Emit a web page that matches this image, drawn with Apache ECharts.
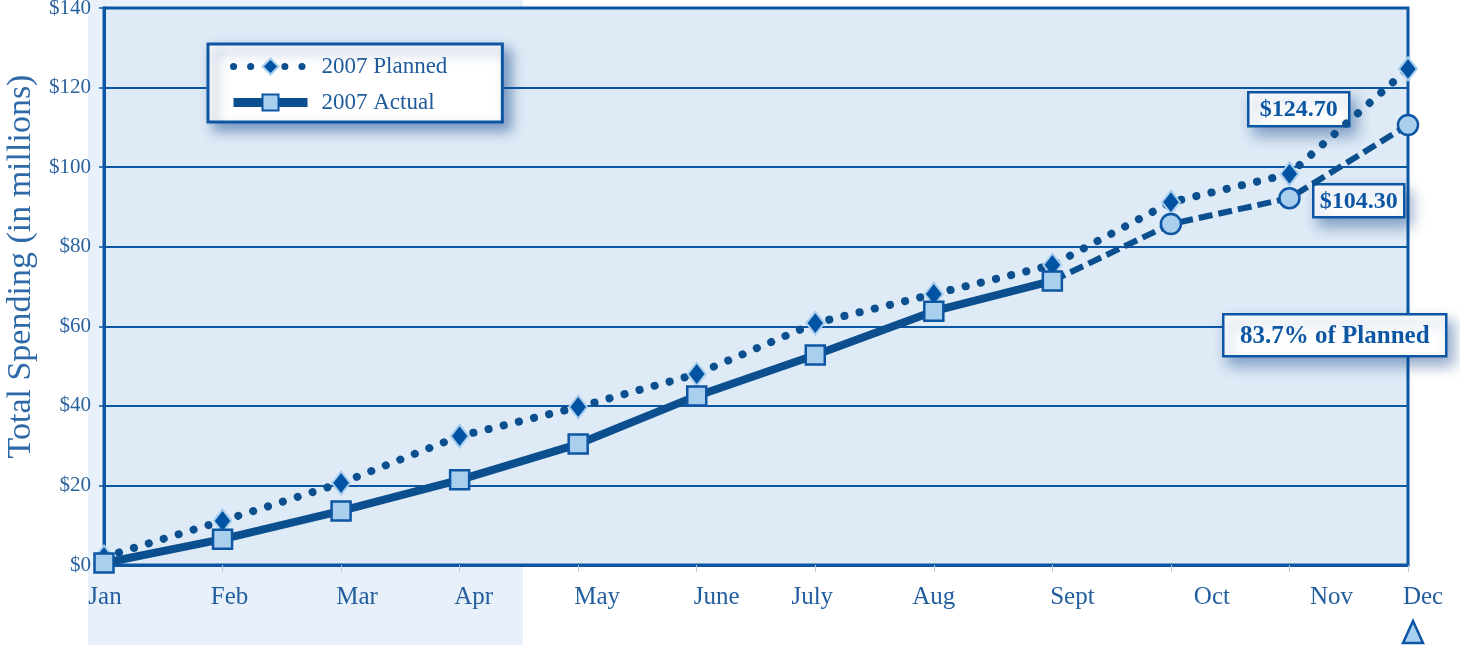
<!DOCTYPE html>
<html>
<head>
<meta charset="utf-8">
<script src="https://cdn.jsdelivr.net/npm/echarts@6/dist/echarts.min.js"></script>
<style>
html,body{margin:0;padding:0;background:#fff;}
#c{width:1460px;height:645px;}
</style>
</head>
<body>
<div id="c"></div>
<script>
const months = ['Jan','Feb','Mar','Apr','May','June','July','Aug','Sept','Oct','Nov','Dec'];
const planned = [2.0, 11.1, 20.6, 32.4, 39.7, 48.0, 60.8, 68.1, 75.4, 91.2, 98.3, 124.7];
const actual = [0.5, 6.5, 13.6, 21.4, 30.4, 42.5, 52.8, 63.8, 71.4, null, null, null];
const projected = [null, null, null, null, null, null, null, null, 71.4, 85.7, 92.2, 110.6];
const seriesNames = ['2007 Planned', '2007 Actual', 'Projected'];
const yAxisTitle = 'Total Spending (in millions)';
const noteTexts = ['$124.70', '$104.30', '83.7% of Planned'];

// label horizontal shifts (style only)
const labelShift = [1, 7, 16, 14, 19, 20, -3, 0, 20, 41, 42, 15];

const NAVY = '#0b4f8e';
const BORDER = '#0c56a3';
const LIGHT = '#a9cfee';
const SERIF = '"Liberation Serif", "DejaVu Serif", serif';

const rich = {};
labelShift.forEach((s, i) => {
  rich['s' + i] = {
    fontFamily: SERIF, fontSize: 25, color: '#235f9f',
    padding: s >= 0 ? [0, 0, 0, 2 * s] : [0, -2 * s, 0, 0]
  };
});

function noteBox(x, y, w, h, text, size) {
  return {
    type: 'group', left: x, top: y, z: 100,
    children: [
      { type: 'rect', z2: 1, shape: { x: 0, y: 0, width: w, height: h },
        style: { fill: '#fff', stroke: BORDER, lineWidth: 2.5,
          shadowBlur: 14, shadowColor: 'rgba(20,70,140,0.45)', shadowOffsetX: 6, shadowOffsetY: 8 } },
      { type: 'text', z2: 2, x: w / 2, y: h / 2 + 1,
        style: { text: text, fill: '#0c56a3', font: 'bold ' + size + 'px ' + SERIF,
          align: 'center', verticalAlign: 'middle' } }
    ]
  };
}

const chart = echarts.init(document.getElementById('c'));
chart.setOption({
  animation: false,
  backgroundColor: '#ffffff',
  grid: {
    left: 104, right: 52, top: 8, bottom: 80,
    outerBoundsMode: 'none', containLabel: false,
    show: true, backgroundColor: '#deeaf6', borderColor: BORDER, borderWidth: 3
  },
  xAxis: {
    type: 'category', data: months, boundaryGap: false,
    axisLine: { show: true, lineStyle: { color: BORDER, width: 3 } },
    axisTick: { show: true, length: 7, alignWithLabel: true, lineStyle: { color: '#b8c8d8', width: 1 } },
    axisLabel: {
      margin: 20,
      formatter: (v, i) => '{s' + i + '|' + v + '}',
      rich: rich
    },
    splitLine: { show: false }
  },
  yAxis: {
    type: 'value', min: 0, max: 140, interval: 20,
    name: yAxisTitle, nameLocation: 'middle', nameGap: 64,
    nameTextStyle: { fontFamily: SERIF, fontSize: 34, color: '#2e6aa8', padding: [0, 0, 0, 40] },
    axisLine: { show: true, lineStyle: { color: BORDER, width: 3 } },
    axisTick: { show: true, length: 5, lineStyle: { color: BORDER, width: 1.5 } },
    axisLabel: { formatter: '${value}', fontFamily: SERIF, fontSize: 21, color: '#2a62a0', margin: 13 },
    splitLine: { show: true, lineStyle: { color: BORDER, width: 2 } }
  },
  legend: {
    data: [
      { name: seriesNames[0], lineStyle: { color: NAVY, width: 7, type: [0.1, 17], cap: 'round' } },
      { name: seriesNames[1], lineStyle: { color: NAVY, width: 9 } }
    ],
    orient: 'vertical', left: 208, top: 44,
    padding: [11, 55, 8, 21],
    itemWidth: 74, itemHeight: 20, itemGap: 13,
    backgroundColor: '#ffffff', borderColor: BORDER, borderWidth: 3,
    shadowBlur: 12, shadowColor: 'rgba(20,70,140,0.5)', shadowOffsetX: 7, shadowOffsetY: 7,
    textStyle: { fontFamily: SERIF, fontSize: 23, color: '#1f5a9a', padding: [0, 0, 0, 9] }
  },
  graphic: [
    { type: 'rect', z: -10, silent: true, shape: { x: 88, y: 0, width: 435, height: 645 },
      style: { fill: '#e8f0fa' } },
    noteBox(1247, 91, 101, 34, noteTexts[0], 24),
    noteBox(1312, 183, 91, 33, noteTexts[1], 24),
    noteBox(1222, 313, 223, 42, noteTexts[2], 25),
    { type: 'polygon', z: 100, shape: { points: [[1413, 621], [1403, 643], [1423, 643]] },
      style: { fill: LIGHT, stroke: BORDER, lineWidth: 2.5 } }
  ],
  series: [
    {
      name: seriesNames[0], type: 'line', data: planned, z: 3,
      symbol: 'diamond', symbolSize: [18, 23],
      lineStyle: { color: NAVY, width: 8, type: [0.1, 15.5], cap: 'round' },
      itemStyle: { color: '#0052a3', borderColor: LIGHT, borderWidth: 2 }
    },
    {
      name: seriesNames[2], type: 'line', z: 4,
      data: projected.map((v, i) => (i === 8 ? { value: v, symbol: 'none' } : v)),
      symbol: 'circle', symbolSize: 20,
      lineStyle: { color: NAVY, width: 6, type: [14, 6] },
      itemStyle: { color: LIGHT, borderColor: BORDER, borderWidth: 2.5 }
    },
    {
      name: seriesNames[1], type: 'line', data: actual, z: 5,
      symbol: 'rect', symbolSize: 19,
      lineStyle: { color: NAVY, width: 8 },
      itemStyle: { color: LIGHT, borderColor: BORDER, borderWidth: 2.5 }
    }
  ]
});
</script>
</body>
</html>
